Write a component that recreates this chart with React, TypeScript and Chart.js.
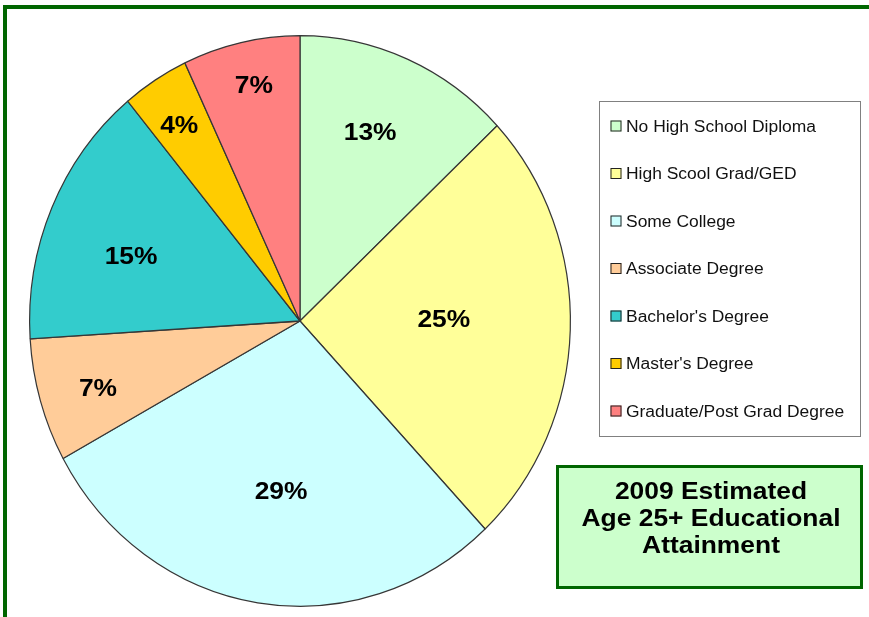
import React, { useEffect, useRef } from 'react';
import { Chart, registerables } from 'chart.js';

Chart.register(...registerables);

const categories = [
  'No High School Diploma',
  'High Scool Grad/GED',
  'Some College',
  'Associate Degree',
  "Bachelor's Degree",
  "Master's Degree",
  'Graduate/Post Grad Degree',
];
const values = [13, 25, 29, 7, 15, 4, 7];
const sliceColors = ['#ccffcc', '#ffff99', '#ccffff', '#ffcc99', '#33cccc', '#ffcc00', '#ff8080'];
const titleLines = ['2009 Estimated', 'Age 25+ Educational', 'Attainment'];

// label placement styling: fraction of radius and small angular nudge (degrees) from the slice mid-angle
const labelRadius = [0.714, 0.532, 0.599, 0.782, 0.666, 0.822, 0.847];
const labelAngleShift = [-2.1, -2.9, -2.3, -1.0, -3.1, -0.5, 1.0];

const TEXT_SCALE = 1.1;
const LEGEND_TEXT_SCALE = 1.09;
const Y_STRETCH = 1.055;
const FONT = '"Liberation Sans", Arial, sans-serif';

function scaledText(ctx: CanvasRenderingContext2D, text: string, x: number, y: number, align: CanvasTextAlign, sx = TEXT_SCALE) {
  ctx.save();
  ctx.translate(x, y);
  ctx.scale(sx, 1);
  ctx.textAlign = align;
  ctx.textBaseline = 'alphabetic';
  ctx.fillText(text, 0, 0);
  ctx.restore();
}

const pagePlugin = {
  id: 'page',
  beforeDraw(chart: any) {
    const ctx = chart.ctx as CanvasRenderingContext2D;
    ctx.save();
    ctx.fillStyle = '#ffffff';
    ctx.fillRect(0, 0, chart.width, chart.height);
    ctx.fillStyle = '#006600';
    ctx.fillRect(3, 5, chart.width - 3, 4);
    ctx.fillRect(3, 5, 4, chart.height - 5);
    ctx.restore();
  },
};

const ellipsePlugin = {
  id: 'ellipse',
  beforeDatasetsDraw(chart: any) {
    const ctx = chart.ctx as CanvasRenderingContext2D;
    const arc = chart.getDatasetMeta(0).data[0];
    ctx.save();
    ctx.translate(arc.x, arc.y);
    ctx.scale(1, Y_STRETCH);
    ctx.translate(-arc.x, -arc.y);
  },
  afterDatasetsDraw(chart: any) {
    const ctx = chart.ctx as CanvasRenderingContext2D;
    ctx.restore();
    const meta = chart.getDatasetMeta(0);
    const size = 24;
    ctx.save();
    ctx.fillStyle = '#000000';
    ctx.font = `bold ${size}px ${FONT}`;
    meta.data.forEach((a: any, i: number) => {
      const mid = (a.startAngle + a.endAngle) / 2 + (labelAngleShift[i] * Math.PI) / 180;
      const r = a.outerRadius * labelRadius[i];
      const x = a.x + Math.cos(mid) * r;
      const y = a.y + Math.sin(mid) * r * Y_STRETCH;
      scaledText(ctx, `${values[i]}%`, x, y + size * 0.358, 'center');
    });
    ctx.restore();
  },
};

const boxesPlugin = {
  id: 'boxes',
  afterDraw(chart: any) {
    const ctx = chart.ctx as CanvasRenderingContext2D;
    ctx.save();
    // legend box
    ctx.fillStyle = '#ffffff';
    ctx.fillRect(599, 101, 261, 336);
    ctx.strokeStyle = '#808080';
    ctx.lineWidth = 1;
    ctx.strokeRect(599.5, 101.5, 261, 335);
    const fs = 16;
    ctx.font = `${fs}px ${FONT}`;
    categories.forEach((label, i) => {
      const cy = 126 + i * 47.5;
      ctx.fillStyle = sliceColors[i];
      ctx.fillRect(610.5, cy - 5.5, 11, 11);
      ctx.strokeStyle = '#222222';
      ctx.lineWidth = 1;
      ctx.strokeRect(611, cy - 5, 10, 10);
      ctx.fillStyle = '#111111';
      scaledText(ctx, label, 626, cy + fs * 0.358, 'left', LEGEND_TEXT_SCALE);
    });
    // title box
    ctx.fillStyle = '#ccffcc';
    ctx.fillRect(556, 465, 307, 124);
    ctx.strokeStyle = '#006600';
    ctx.lineWidth = 3;
    ctx.strokeRect(557.5, 466.5, 304, 121);
    const ts = 24;
    ctx.font = `bold ${ts}px ${FONT}`;
    ctx.fillStyle = '#000000';
    titleLines.forEach((line, i) => {
      scaledText(ctx, line, 711, 490.5 + i * 26.8 + ts * 0.358, 'center');
    });
    ctx.restore();
  },
};

export default function App() {
  const ref = useRef<HTMLCanvasElement | null>(null);
  useEffect(() => {
    if (!ref.current) return;
    const chart = new Chart(ref.current, {
      type: 'pie',
      data: {
        labels: categories,
        datasets: [
          {
            data: values,
            backgroundColor: sliceColors,
            borderColor: '#363636',
            borderWidth: 1.2,
            clip: false as any,
          },
        ],
      },
      options: {
        responsive: false,
        animation: false,
        devicePixelRatio: 1,
        layout: { padding: { left: 29, right: 298, top: 50, bottom: 25 } },
        plugins: {
          legend: { display: false },
          tooltip: { enabled: false },
          title: { display: false },
        },
      },
      plugins: [pagePlugin, ellipsePlugin, boxesPlugin],
    });
    return () => chart.destroy();
  }, []);
  return (
    <div style={{ position: 'absolute', left: 0, top: 0, width: 869, height: 617, overflow: 'hidden' }}>
      <canvas ref={ref} width={869} height={617} style={{ display: 'block' }} />
    </div>
  );
}
